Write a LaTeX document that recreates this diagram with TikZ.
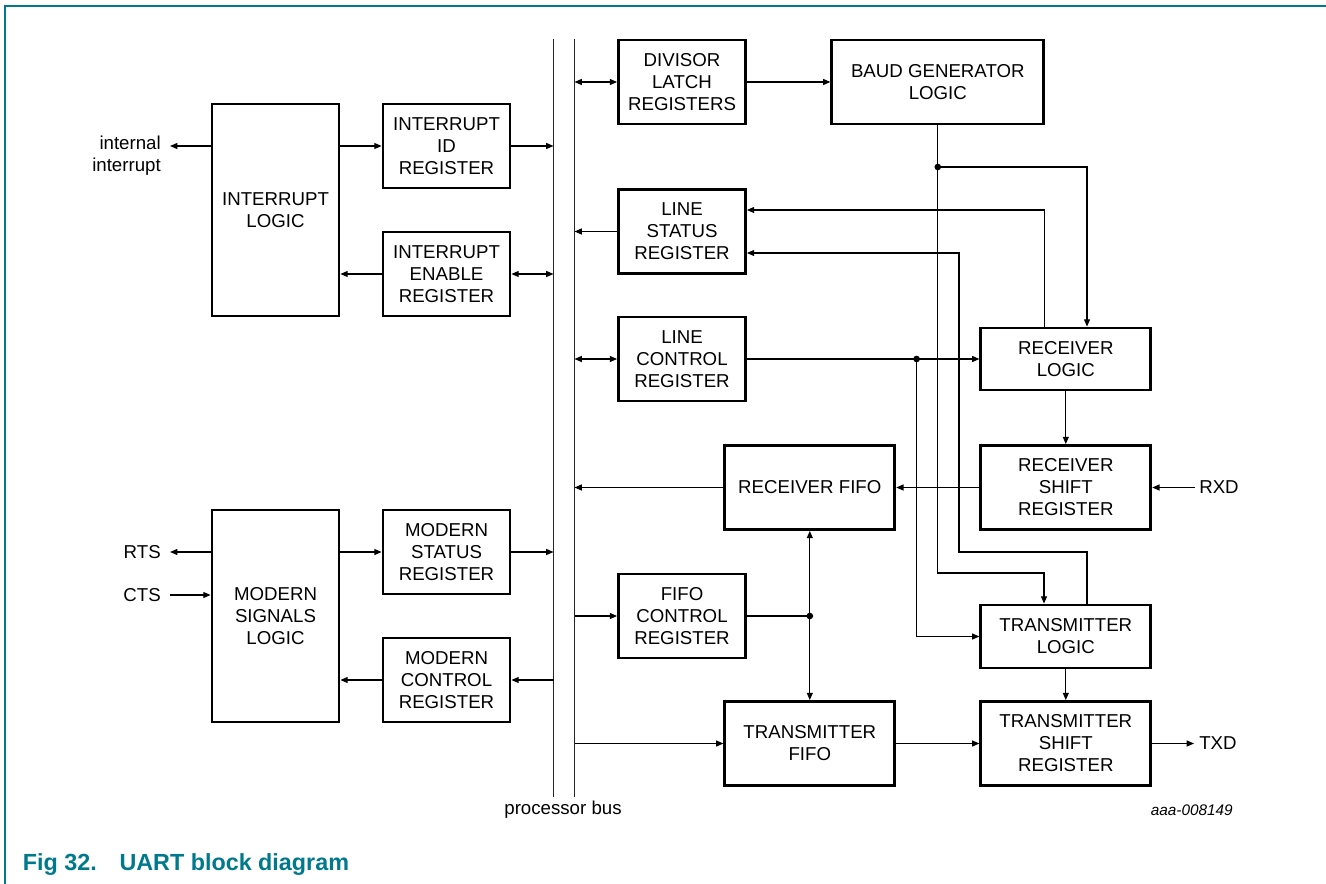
\documentclass[tikz,border=0pt]{standalone}
\usepackage{fontspec}
\setmainfont{Liberation Sans}
\usetikzlibrary{arrows.meta}
\definecolor{nxpteal}{RGB}{0,121,140}
\begin{document}
\begin{tikzpicture}[x=0.75pt,y=-0.75pt,
  >={Triangle[length=5.5pt,width=4.5pt]},
  box/.style={draw, line width=2.1pt, inner sep=0pt, align=center, font=\fontsize{14}{16.5}\selectfont},
  wh/.style 2 args={minimum width=#1*0.75pt, minimum height=#2*0.75pt},
  conn/.style={line width=0.9pt},
  busline/.style={line width=1pt, black!85},
  lbl/.style={font=\fontsize{14}{16.5}\selectfont, inner sep=0pt},
  jdot/.style={circle, fill, inner sep=0pt, minimum size=5pt}
]
\useasboundingbox (0,0) rectangle (1326,884);
\draw[nxpteal, line width=1.1pt] (5,884) -- (5,6) -- (1326,6);
\node[anchor=base west, font=\fontsize{17.5}{20}\selectfont\bfseries, text=nxpteal, inner sep=0pt] (title) at (22.7,870) {Fig 32.\hspace{17pt}UART block diagram};

% processor bus
\coordinate (busL) at (553.5,39); \coordinate (busLb) at (553.5,797);
\coordinate (busR) at (574.5,39); \coordinate (busRb) at (574.5,797);
\draw[busline] (busL) -- (busLb);
\draw[busline] (busR) -- (busRb);
\node[lbl] (pbus) at (563,810) {processor bus};
\node[lbl, anchor=east, font=\fontsize{11.5}{13}\selectfont\itshape] (code) at (1233,810) {aaa-008149};

% boxes
\node[box, wh={127}{212}] (IL) at (275.5,210) {INTERRUPT\\LOGIC};
\node[box, wh={127}{84}] (IID) at (446.5,146) {INTERRUPT\\ID\\REGISTER};
\node[box, wh={127}{84}] (IER) at (446.5,274) {INTERRUPT\\ENABLE\\REGISTER};
\node[box, wh={127}{212}] (MSL) at (275.5,616) {MODERN\\SIGNALS\\LOGIC};
\node[box, wh={127}{84}] (MSR) at (446.5,552) {MODERN\\STATUS\\REGISTER};
\node[box, wh={127}{84}] (MCR) at (446.5,680) {MODERN\\CONTROL\\REGISTER};
\node[box, wh={127}{84}] (DLR) at (682,82) {DIVISOR\\LATCH\\REGISTERS};
\node[box, wh={212}{84}] (BAUD) at (937.8,82) {BAUD GENERATOR\\LOGIC};
\node[box, wh={127}{84}] (LSR) at (682,231.5) {LINE\\STATUS\\REGISTER};
\node[box, wh={127}{84}] (LCR) at (682,359) {LINE\\CONTROL\\REGISTER};
\node[box, wh={170}{62}] (RL) at (1065.8,359) {RECEIVER\\LOGIC};
\node[box, wh={170}{84}] (RSR) at (1065.8,487.5) {RECEIVER\\SHIFT\\REGISTER};
\node[box, wh={170}{84}] (RFIFO) at (809.8,487.5) {RECEIVER FIFO};
\node[box, wh={127}{84}] (FCR) at (682,616) {FIFO\\CONTROL\\REGISTER};
\node[box, wh={170}{63}] (TL) at (1065.8,636.5) {TRANSMITTER\\LOGIC};
\node[box, wh={170}{84}] (TFIFO) at (809.8,743.5) {TRANSMITTER\\FIFO};
\node[box, wh={170}{84}] (TSR) at (1065.8,743.5) {TRANSMITTER\\SHIFT\\REGISTER};

% external labels
\coordinate (intr) at (170,146);
\coordinate (rts) at (170,552);
\coordinate (cts) at (170,595);
\coordinate (rxd) at (1195,487.5);
\coordinate (txd) at (1194,743.5);
\node[lbl, anchor=east, align=right] (intrl) at (161,156) {internal\\interrupt};
\node[lbl, anchor=east] (rtsl) at (161,552) {RTS};
\node[lbl, anchor=east] (ctsl) at (161,595) {CTS};
\node[lbl, anchor=west] (rxdl) at (1199,487.5) {RXD};
\node[lbl, anchor=west] (txdl) at (1199,743.5) {TXD};

% left side connectors
\draw[conn,->] (IID.west -| IL.east) -- (IID.west);
\draw[conn,->] (IL.west |- intr) -- (intr);
\draw[conn,->] (IID.east) -- (IID.east -| busL);
\draw[conn,->] (IER.west) -- (IER.west -| IL.east);
\draw[conn,<->] (IER.east) -- (IER.east -| busL);
\draw[conn,->] (MSR.west -| MSL.east) -- (MSR.west);
\draw[conn,->] (MSR.east) -- (MSR.east -| busL);
\draw[conn,->] (MCR.east -| busL) -- (MCR.east);
\draw[conn,->] (MCR.west) -- (MCR.west -| MSL.east);
\draw[conn,->] (rts -| MSL.west) -- (rts);
\draw[conn,->] (cts) -- (cts -| MSL.west);

% right side: bus connections
\draw[conn,<->] (DLR.west -| busR) -- (DLR.west);
\draw[conn,->] (LSR.west) -- (LSR.west -| busR);
\draw[conn,<->] (LCR.west -| busR) -- (LCR.west);
\draw[conn,->] (RFIFO.west) -- (RFIFO.west -| busR);
\draw[conn,->] (FCR.west -| busR) -- (FCR.west);
\draw[conn,->] (TFIFO.west -| busR) -- (TFIFO.west);

% internal
\draw[conn,->] (DLR.east) -- (BAUD.west);
\coordinate (bdot) at (937.8,167);
\coordinate (bturn) at (937.8,573);
\coordinate (tlin) at (1044,573);
\coordinate (rlin) at (1087,167);
\draw[conn,->] (BAUD.south) -- (bturn) -- (tlin) -- (tlin |- TL.north);
\draw[conn,->] (bdot) -- (rlin) -- (rlin |- RL.north);
\node[jdot] (d1) at (bdot) {};

\coordinate (rlup) at (1044.6,210);
\draw[conn,->] (rlup |- RL.north) -- (rlup) -- (rlup -| LSR.east);
\coordinate (tlup) at (1087,552);
\coordinate (lsrin) at (959,253);
\draw[conn,->] (tlup |- TL.north) -- (tlup) -- (tlup -| lsrin) -- (lsrin) -- (lsrin -| LSR.east);

\draw[conn,->] (LCR.east) -- (RL.west);
\coordinate (ldot) at (916.6,359);
\draw[conn,->] (ldot) -- (ldot |- TL.west) -- (TL.west);
\node[jdot] (d2) at (ldot) {};

\draw[conn,->] (RL.south) -- (RSR.north);
\draw[conn,->] (rxd) -- (RSR.east);
\draw[conn,->] (RSR.west) -- (RFIFO.east);

\coordinate (fdot) at (809.8,616);
\draw[conn] (FCR.east) -- (fdot);
\draw[conn,->] (fdot) -- (RFIFO.south);
\draw[conn,->] (fdot) -- (TFIFO.north);
\node[jdot] (d3) at (fdot) {};

\draw[conn,->] (TFIFO.east) -- (TSR.west);
\draw[conn,->] (TL.south) -- (TSR.north);
\draw[conn,->] (TSR.east) -- (txd);
\end{tikzpicture}
\end{document}
